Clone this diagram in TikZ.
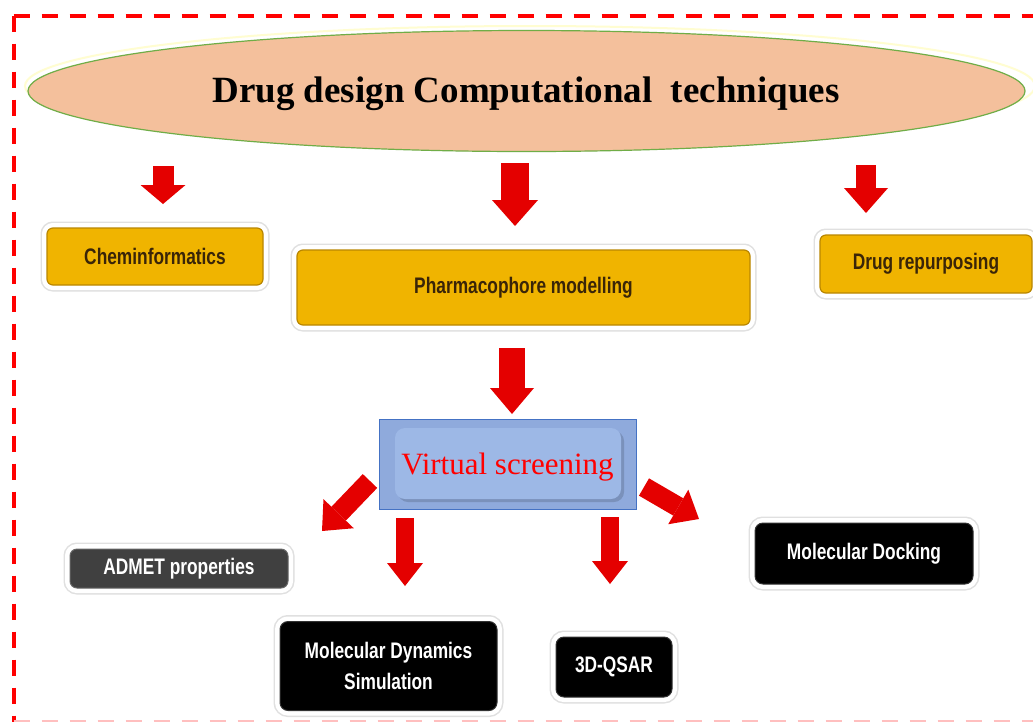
\documentclass[tikz,border=0pt]{standalone}
\usepackage{fontspec}
\setmainfont{Liberation Serif}
\newfontfamily\boxfont[FakeStretch=0.77]{Liberation Sans}
\usetikzlibrary{arrows.meta,shapes.geometric}
\definecolor{peach}{HTML}{F4C09C}
\definecolor{ellgreen}{HTML}{70AD47}
\definecolor{gold}{HTML}{F0B400}
\definecolor{goldd}{HTML}{B98600}
\definecolor{brtext}{HTML}{3A2508}
\definecolor{vsfill}{HTML}{8FAADC}
\definecolor{vsinner}{HTML}{9DB8E6}
\definecolor{vsdraw}{HTML}{4472C4}
\definecolor{arrred}{HTML}{E40000}
\definecolor{framered}{HTML}{FF0000}
\definecolor{admetgray}{HTML}{404040}
\begin{document}
\begin{tikzpicture}[x=1pt,y=-1pt,
  glow/.style={preaction={draw=black!12, line width=13pt}, preaction={draw=white, line width=10pt}},
  ybox/.style={glow, rounded corners=6pt, fill=gold, draw=goldd, line width=1.2pt,
    font=\boxfont\bfseries\fontsize{22.5}{24}\selectfont, text=brtext, inner sep=0pt},
  kbox/.style={glow, rounded corners=8pt, fill=black, draw=black!80, line width=1pt,
    font=\boxfont\bfseries\fontsize{22.5}{31}\selectfont, text=white, align=center, inner sep=0pt},
  barrow/.style n args={3}{draw=arrred, line width=#1pt, -{Triangle[width=#2pt,length=#3pt,line width=0pt]}}
]
\useasboundingbox (0,0) rectangle (1033,721);
\fill[white] (0,0) rectangle (1033,721);
% frame
\draw[framered, line width=4pt, dash pattern=on 16pt off 12pt] (13.5,15.5) -- (1040,15.5);
\draw[framered, line width=4pt, dash pattern=on 16pt off 12pt] (13.5,15.5) -- (13.5,730);
\draw[framered!25, line width=2pt, dash pattern=on 16pt off 12pt] (13.5,720.5) -- (1040,720.5);
% title ellipse
\draw[yellow!18, line width=2pt] (530,86) ellipse [x radius=505, y radius=60];
\node[ellipse, draw=ellgreen, line width=1.2pt, fill=peach, minimum width=997, minimum height=121, inner sep=0pt] (title) at (526.5,91) {};
\node[font=\bfseries\fontsize{37}{40}\selectfont, inner sep=0pt] (titletext) at (526,94) {Drug design Computational~~techniques};
% yellow boxes
\node[ybox, minimum width=216, minimum height=57] (chem) at (155,256.5) {Cheminformatics};
\node[ybox, minimum width=453, minimum height=75] (pharm) at (523.5,287.5) {Pharmacophore modelling};
\node[ybox, minimum width=212, minimum height=58] (repur) at (926,264) {Drug repurposing};
% virtual screening
\node[draw=vsdraw, line width=1pt, fill=vsfill, minimum width=257, minimum height=90, inner sep=0pt] (vs) at (507.5,464) {};
\fill[vsfill!85!black, rounded corners=10pt] (398,431) rectangle (624,502);
\fill[vsinner, rounded corners=10pt] (395,428) rectangle (621,499);
\node[text=red, font=\fontsize{31}{34}\selectfont, inner sep=0pt] (vstext) at (507.5,467) {Virtual screening};
% black boxes
\node[glow, rounded corners=7pt, fill=admetgray, draw=black!60, line width=1pt, minimum width=218, minimum height=39,
  font=\boxfont\bfseries\fontsize{22.5}{24}\selectfont, text=white, inner sep=0pt] (admet) at (179,568.5) {ADMET properties};
\node[kbox, minimum width=217, minimum height=89] (md) at (388.5,666) {Molecular Dynamics\\Simulation};
\node[kbox, minimum width=116, minimum height=60] (qsar) at (614,667) {3D-QSAR};
\node[kbox, minimum width=218, minimum height=61] (dock) at (864,553.5) {Molecular Docking};
% arrows
\coordinate (a1s) at (163,166); \coordinate (a1e) at (163,204);
\coordinate (a2s) at (515,163); \coordinate (a2e) at (515,226);
\coordinate (a3s) at (866,165); \coordinate (a3e) at (866,213);
\coordinate (a4s) at (512,348); \coordinate (a4e) at (512,414);
\coordinate (a5s) at (370,481); \coordinate (a5e) at (322,531);
\coordinate (a6s) at (405,518); \coordinate (a6e) at (405,586);
\coordinate (a7s) at (610,517); \coordinate (a7e) at (610,584);
\coordinate (a8s) at (644,487); \coordinate (a8e) at (699,519);
\draw[barrow={21}{45}{19}] (a1s) -- (a1e);
\draw[barrow={28}{46}{26}] (a2s) -- (a2e);
\draw[barrow={20}{44}{25}] (a3s) -- (a3e);
\draw[barrow={26}{44}{26}] (a4s) -- (a4e);
\draw[barrow={20}{42}{24}] (a5s) -- (a5e);
\draw[barrow={18}{36}{23}] (a6s) -- (a6e);
\draw[barrow={18}{36}{23}] (a7s) -- (a7e);
\draw[barrow={20}{40}{24}] (a8s) -- (a8e);
\end{tikzpicture}
\end{document}
